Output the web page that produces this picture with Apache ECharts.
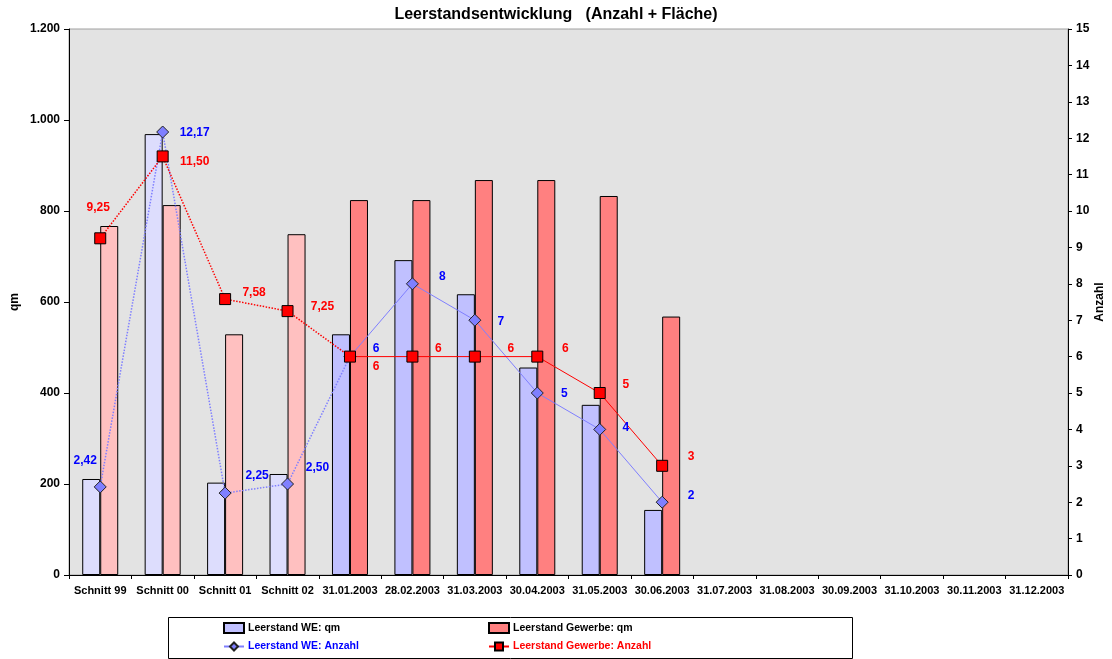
<!DOCTYPE html>
<html>
<head>
<meta charset="utf-8">
<script src="https://cdn.jsdelivr.net/npm/echarts@6/dist/echarts.min.js"></script>
<style>html,body{margin:0;padding:0;background:#fff;}#c{width:1112px;height:659px;}</style>
</head>
<body>
<div id="c"></div>
<script>
const categories = ['Schnitt 99','Schnitt 00','Schnitt 01','Schnitt 02','31.01.2003','28.02.2003','31.03.2003','30.04.2003','31.05.2003','30.06.2003','31.07.2003','31.08.2003','30.09.2003','31.10.2003','30.11.2003','31.12.2003'];
const weQm = [211, 969, 203, 222, 529, 692, 617, 456, 374, 143];
const gewQm = [767, 813, 529, 749, 824, 824, 868, 868, 833, 568];
const weAnz = [2.42, 12.17, 2.25, 2.50, 6, 8, 7, 5, 4, 2];
const gewAnz = [9.25, 11.50, 7.58, 7.25, 6, 6, 6, 6, 5, 3];
const leftTicks = [0, 200, 400, 600, 800, 1000, 1200];
const rightTicks = [0, 15];
const averageCount = 4; // first 4 categories are averages (lighter colours, dotted lines)

// label offsets (style only)
const weLabelOff = [[-15,-26],[32,1],[32,-17],[30,-16],[26,-8],[30,-7],[26,1],[27,1],[26,-2],[29,-7]];
const gewLabelOff = [[-2,-31],[32,5],[29,-6],[35,-4],[26,10],[26,-8],[36,-8],[28,-8],[26,-8],[29,-9]];

function fmt(v){ return Number.isInteger(v) ? String(v) : v.toFixed(2).replace('.', ','); }
function thous(v){ return String(v).replace(/\B(?=(\d{3})+(?!\d))/g, '.'); }

const F = 'Liberation Sans, Arial, sans-serif';
const WE_DARK = '#C0C0FF', WE_LIGHT = '#DDDDFD', GEW_DARK = '#FF8080', GEW_LIGHT = '#FFC0C0';
const WE_LINE = '#7F7FFF', GEW_LINE = '#FF0000';

function barData(arr, light){
  return arr.map((v,i)=> i < averageCount ? {value:v, itemStyle:{color:light}} : v);
}
function lineLabel(off, col){
  return {show:true, position:'inside', offset:off, color:col, fontWeight:'bold', fontSize:12, fontFamily:F,
          formatter:p=>fmt(p.value)};
}
function dottedData(arr, offs, col){
  return arr.map((v,i)=>{
    if (i < averageCount) return {value:v, label:lineLabel(offs[i], col)};
    if (i === averageCount) return {value:v, symbol:'none', label:{show:false}};
    return null;
  });
}
function solidData(arr, offs, col){
  return arr.map((v,i)=> i >= averageCount ? {value:v, label:lineLabel(offs[i], col)} : null);
}
function legendItem(left, top, name, icon, color){
  const d = {name:name};
  if (icon) d.icon = icon;
  return {left:left, top:top, itemWidth:20, itemHeight:10, padding:0,
    textStyle:{fontFamily:F, fontWeight:'bold', fontSize:10.5, color:color, padding:[0,0,0,-1]},
    data:[d]};
}

const chart = echarts.init(document.getElementById('c'), null, {renderer:'canvas'});
const weMarker = {color:'#7F7FFF', borderColor:'#222', borderWidth:1};
const gewMarker = {color:'#FF0000', borderColor:'#000', borderWidth:1};

chart.setOption({
  animation:false,
  backgroundColor:'#fff',
  title:{text:'Leerstandsentwicklung   (Anzahl + Fläche)', left:'center', top:2,
    textStyle:{fontFamily:F, fontWeight:'bold', fontSize:16, color:'#000'}},
  grid:{left:69, right:44, top:29, bottom:84, outerBoundsMode:'none', containLabel:false,
    show:true, backgroundColor:'#E3E3E3', borderColor:'#A0A0A0', borderWidth:1},
  graphic:[{type:'rect', shape:{x:168.5, y:617.5, width:684, height:41}, style:{fill:'none', stroke:'#000', lineWidth:1}, z:-1}],
  legend:[
    legendItem(223, 622, 'Leerstand WE: qm', 'rect', '#000'),
    legendItem(223, 641, 'Leerstand WE: Anzahl', null, '#0000FF'),
    legendItem(488, 622, 'Leerstand Gewerbe: qm', 'rect', '#000'),
    legendItem(488, 641, 'Leerstand Gewerbe: Anzahl', null, '#FF0000')
  ],
  xAxis:{type:'category', data:categories, boundaryGap:true,
    axisLine:{lineStyle:{color:'#000', width:1}},
    axisTick:{show:true, length:4, lineStyle:{color:'#000'}},
    axisLabel:{interval:0, margin:10, fontFamily:F, fontWeight:'bold', fontSize:11, color:'#000'}},
  yAxis:[
    {type:'value', min:leftTicks[0], max:leftTicks[leftTicks.length-1], interval:leftTicks[1]-leftTicks[0], splitLine:{show:false},
     name:'qm', nameLocation:'middle', nameRotate:90, nameGap:48, nameMoveOverlap:false,
     nameTextStyle:{fontFamily:F, fontWeight:'bold', fontSize:12, color:'#000'},
     axisLine:{show:true, lineStyle:{color:'#000'}}, axisTick:{show:true, length:5, lineStyle:{color:'#000'}},
     axisLabel:{margin:9, fontFamily:F, fontWeight:'bold', fontSize:12, color:'#000', formatter:v=>thous(v)}},
    {type:'value', min:rightTicks[0], max:rightTicks[1], interval:1, splitLine:{show:false}, position:'right',
     name:'Anzahl', nameLocation:'middle', nameRotate:90, nameGap:26, nameMoveOverlap:false,
     nameTextStyle:{fontFamily:F, fontWeight:'bold', fontSize:12, color:'#000'},
     axisLine:{show:true, lineStyle:{color:'#000'}}, axisTick:{show:true, length:4, lineStyle:{color:'#000'}},
     axisLabel:{margin:8, fontFamily:F, fontWeight:'bold', fontSize:12, color:'#000'}}
  ],
  series:[
    {name:'Leerstand WE: qm', type:'bar', barWidth:18, barGap:'0%', data:barData(weQm, WE_LIGHT),
     itemStyle:{color:WE_DARK, borderColor:'#000', borderWidth:1}},
    {name:'Leerstand Gewerbe: qm', type:'bar', barWidth:18, barGap:'0%', data:barData(gewQm, GEW_LIGHT),
     itemStyle:{color:GEW_DARK, borderColor:'#000', borderWidth:1}},
    {name:'WE dotted', type:'line', yAxisIndex:1, data:dottedData(weAnz, weLabelOff, '#0000FF'),
     symbol:'diamond', symbolSize:12, itemStyle:weMarker, lineStyle:{color:WE_LINE, width:1.5, type:'dotted'}, z:5},
    {name:'Gew dotted', type:'line', yAxisIndex:1, data:dottedData(gewAnz, gewLabelOff, '#FF0000'),
     symbol:'rect', symbolSize:11, itemStyle:gewMarker, lineStyle:{color:GEW_LINE, width:1.5, type:'dotted'}, z:5},
    {name:'Leerstand WE: Anzahl', type:'line', yAxisIndex:1, data:solidData(weAnz, weLabelOff, '#0000FF'),
     symbol:'diamond', symbolSize:12, itemStyle:weMarker, lineStyle:{color:WE_LINE, width:1}, z:6},
    {name:'Leerstand Gewerbe: Anzahl', type:'line', yAxisIndex:1, data:solidData(gewAnz, gewLabelOff, '#FF0000'),
     symbol:'rect', symbolSize:11, itemStyle:gewMarker, lineStyle:{color:GEW_LINE, width:1}, z:6}
  ]
});
</script>
</body>
</html>
